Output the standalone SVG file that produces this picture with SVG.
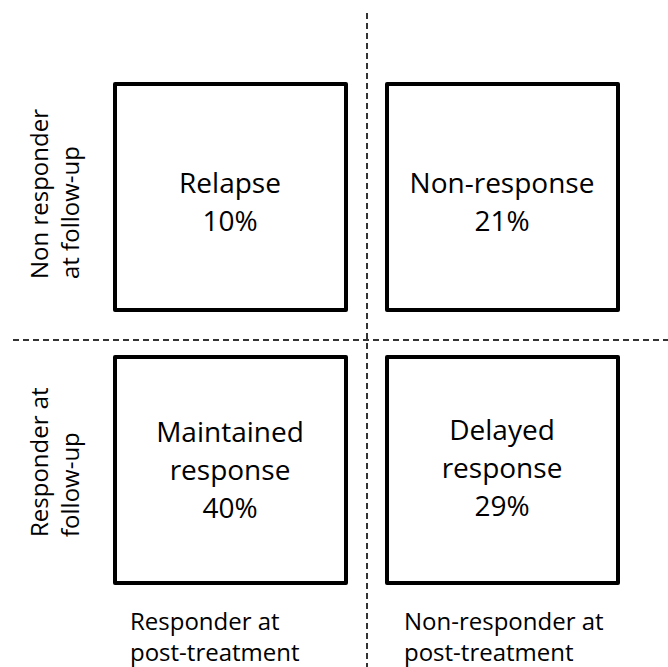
<svg xmlns="http://www.w3.org/2000/svg" width="668" height="667" viewBox="0 0 668 667">
<style>
.box{fill:#fff;stroke:#000;stroke-width:4;stroke-linejoin:round}
.t{font-family:"Open Sans","Liberation Sans",sans-serif;font-size:28px;fill:#000;text-anchor:middle}
.l{font-family:"Open Sans","Liberation Sans",sans-serif;font-size:24px;fill:#000}
.d{stroke:#333;stroke-width:2;stroke-dasharray:6 4;fill:none}
</style>
<rect width="668" height="667" fill="#fff"/>
<g id="connectors">
<line class="d" x1="367" y1="13" x2="367" y2="667"/>
<line class="d" x1="13" y1="340" x2="668" y2="340"/>
</g>
<g id="relapse">
<rect class="box" x="115" y="84" width="231" height="226"/>
<text class="t" x="230" y="193">Relapse</text>
<text class="t" x="230" y="231">10%</text>
</g>
<g id="nonresponse">
<rect class="box" x="387" y="84" width="231" height="226"/>
<text class="t" x="502" y="193">Non-response</text>
<text class="t" x="502" y="231">21%</text>
</g>
<g id="maintained">
<rect class="box" x="115" y="357" width="231" height="226"/>
<text class="t" x="230" y="442">Maintained</text>
<text class="t" x="230" y="480">response</text>
<text class="t" x="230" y="518">40%</text>
</g>
<g id="delayed">
<rect class="box" x="387" y="357" width="231" height="226"/>
<text class="t" x="502" y="440">Delayed</text>
<text class="t" x="502" y="478">response</text>
<text class="t" x="502" y="516">29%</text>
</g>
<g id="row-label-top">
<text class="l" transform="translate(48,279) rotate(-90)">Non responder</text>
<text class="l" transform="translate(79,279) rotate(-90)">at follow-up</text>
</g>
<g id="row-label-bottom">
<text class="l" transform="translate(48,537) rotate(-90)">Responder at</text>
<text class="l" transform="translate(79,537) rotate(-90)">follow-up</text>
</g>
<g id="col-label-left">
<text class="l" x="130" y="630">Responder at</text>
<text class="l" x="130" y="661">post-treatment</text>
</g>
<g id="col-label-right">
<text class="l" x="404" y="630">Non-responder at</text>
<text class="l" x="404" y="661">post-treatment</text>
</g>
</svg>
